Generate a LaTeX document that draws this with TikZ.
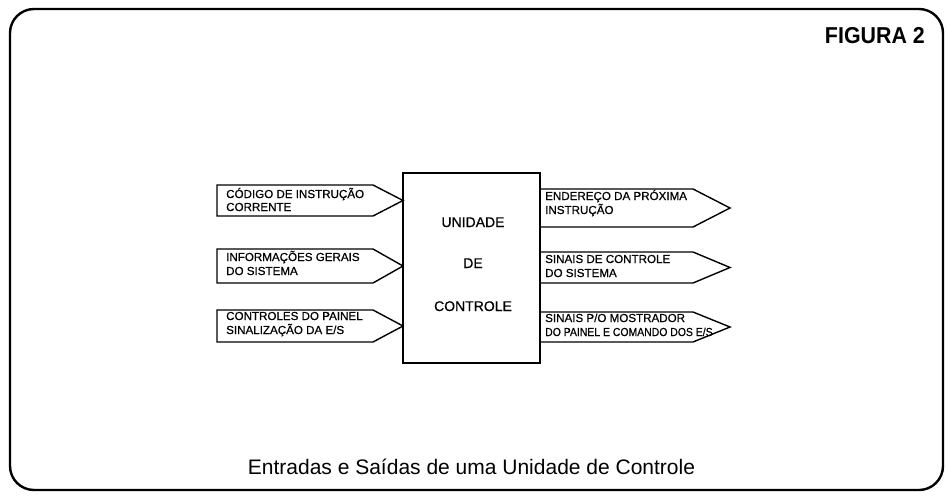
\documentclass[tikz,border=0pt]{standalone}
\usepackage{fontspec}
\setmainfont{Liberation Sans}
\newfontfamily\labfont[FakeBold=0.6]{Liberation Sans}
\newcommand\pentarrow[5]{\draw[box] (#1,#4) -- (#2,#4) -- (#3,{(#4+#5)/2}) -- (#2,#5) -- (#1,#5) -- cycle;}
\begin{document}
\begin{tikzpicture}[x=1pt,y=-1pt,
  frame/.style={line width=2.4pt},
  box/.style={line width=1.4pt, line join=miter},
  lab/.style={font=\labfont\fontsize{11.6}{13}\selectfont, anchor=base west, inner sep=0pt},
  mid/.style={font=\labfont\fontsize{14}{16}\selectfont, anchor=base, inner sep=0pt}]
\useasboundingbox (0,0) rectangle (947,495);
% frame
\draw[frame, rounded corners=24pt] (10,9) rectangle (943,490);
\node[font=\fontsize{23}{26}\selectfont\bfseries, anchor=base east, inner sep=0pt] (fig) at (925,44) {\scalebox{0.93}[1]{FIGURA 2}};
% central box
\node[box, draw, minimum width=137pt, minimum height=190pt, inner sep=0pt] (cu) at (471.5,268) {};
\node[mid] (u1) at (473,227) {UNIDADE};
\node[mid] (u2) at (473,268) {DE};
\node[mid] (u3) at (473,311) {CONTROLE};
% left inputs
\pentarrow{217}{373}{403}{185}{216}
\node[lab] (a1) at (226,198) {CÓDIGO DE INSTRUÇÃO};
\node[lab] (a2) at (226,211) {CORRENTE};
\pentarrow{217}{373}{403}{249}{283}
\node[lab] (b1) at (226,261) {INFORMAÇÕES GERAIS};
\node[lab] (b2) at (226,275) {DO SISTEMA};
\pentarrow{217}{373}{403}{310}{342}
\node[lab] (c1) at (226,320) {CONTROLES DO PAINEL};
\node[lab] (c2) at (226,334) {SINALIZAÇÃO DA E/S};
% right outputs
\pentarrow{540}{693}{730}{189}{227}
\node[lab] (d1) at (545,200) {ENDEREÇO DA PRÓXIMA};
\node[lab] (d2) at (545,214) {INSTRUÇÃO};
\pentarrow{540}{693}{730}{252}{283}
\node[lab] (e1) at (545,263) {SINAIS DE CONTROLE};
\node[lab] (e2) at (545,277) {DO SISTEMA};
\pentarrow{540}{693}{730}{312}{342}
\node[lab] (f1) at (545,322) {SINAIS P/O MOSTRADOR};
\node[lab] (f2) at (545,336) {\scalebox{0.9}[1]{DO PAINEL E COMANDO DOS E/S}};
% caption
\node[font=\fontsize{21}{24}\selectfont, anchor=base, inner sep=0pt] (cap) at (471.5,474) {Entradas e Saídas de uma Unidade de Controle};
\end{tikzpicture}
\end{document}
